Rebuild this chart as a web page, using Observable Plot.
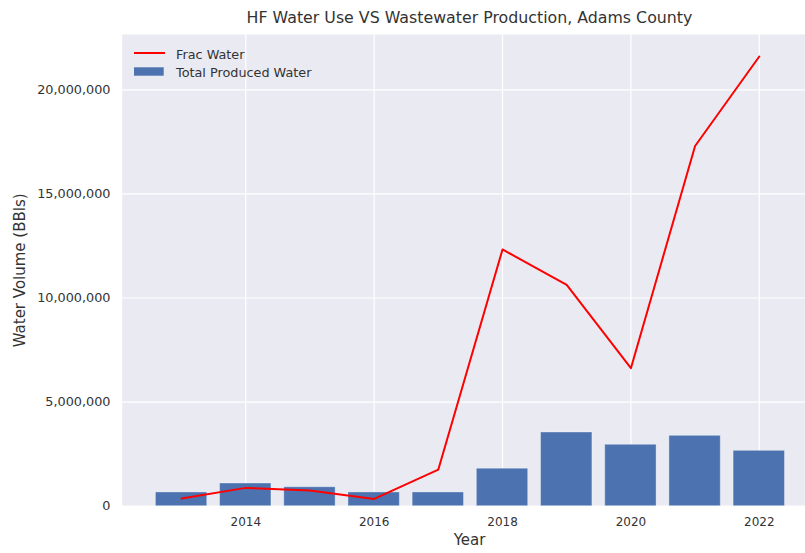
<!DOCTYPE html>
<html>
<head>
<meta charset="utf-8">
<script src="https://cdn.jsdelivr.net/npm/d3@7"></script>
<script src="https://cdn.jsdelivr.net/npm/@observablehq/plot@0.6"></script>
<style>
  html, body { margin: 0; padding: 0; background: white; }
  #wrap { position: relative; width: 805px; height: 553px; overflow: hidden; }
  #legend { position: absolute; left: 0; top: 0; pointer-events: none; }
</style>
</head>
<body>
<div id="wrap">
  <div id="chart"></div>
  <svg id="legend" width="805" height="553" font-family="DejaVu Sans" font-size="12.8" fill="#333333">
    <line x1="134" x2="165" y1="53" y2="53" stroke="#ff0000" stroke-width="2"></line>
    <rect x="134" y="67.3" width="29.7" height="8.4" fill="#4c72b0"></rect>
    <text x="176" y="58.7">Frac Water</text>
    <text x="176" y="77.3">Total Produced Water</text>
  </svg>
</div>
<script>
const years = [2013, 2014, 2015, 2016, 2017, 2018, 2019, 2020, 2021, 2022];
const fracWater = [370000, 880000, 750000, 350000, 1760000, 12330000, 10630000, 6630000, 17300000, 21600000];
const producedWater = [660000, 1090000, 910000, 660000, 660000, 1800000, 3540000, 2950000, 3380000, 2660000];
const xTicks = [2014, 2016, 2018, 2020, 2022];
const yTicks = [0, 5000000, 10000000, 15000000, 20000000];
const titleText = "HF Water Use VS Wastewater Production, Adams County";
const xLabel = "Year";
const yLabel = "Water Volume (BBls)";

const data = years.map((year, i) => ({year, frac: fracWater[i], produced: producedWater[i]}));
const ink = "#333333";

const chart = Plot.plot({
  width: 805,
  height: 553,
  marginLeft: 121.7,
  marginRight: 0,
  marginTop: 34,
  marginBottom: 47.3,
  style: {fontFamily: "DejaVu Sans", background: "white", color: ink},
  x: {type: "linear", domain: [2012.075, 2022.72]},
  y: {domain: [0, 22655000]},
  marks: [
    Plot.frame({fill: "#eaeaf2", stroke: "none"}),
    Plot.gridX(xTicks, {stroke: "white", strokeOpacity: 1, strokeWidth: 1.2}),
    Plot.gridY(yTicks, {stroke: "white", strokeOpacity: 1, strokeWidth: 1.2}),
    Plot.rect(data, {
      x1: d => d.year - 0.4,
      x2: d => d.year + 0.4,
      y1: 0,
      y2: "produced",
      fill: "#4c72b0",
      stroke: "white",
      strokeOpacity: 0.35,
      strokeWidth: 1
    }),
    Plot.line(data, {x: "year", y: "frac", stroke: "#ff0000", strokeWidth: 2}),
    Plot.axisX(xTicks, {tickSize: 0, tickPadding: 11.6, fontSize: 12, tickFormat: d => String(d), label: null, fill: ink}),
    Plot.axisY(yTicks, {tickSize: 0, tickPadding: 11.7, fontSize: 12.8, tickFormat: d3.format(","), label: null, fill: ink}),
    Plot.text([titleText], {frameAnchor: "top", textAnchor: "middle", lineAnchor: "middle", dy: -16.5, dx: 5.65, fontSize: 15.8, fill: ink}),
    Plot.text([xLabel], {frameAnchor: "bottom", textAnchor: "middle", lineAnchor: "middle", dy: 33.8, dx: 5.65, fontSize: 15, fill: ink}),
    Plot.text([yLabel], {frameAnchor: "left", textAnchor: "middle", lineAnchor: "middle", dx: -101.7, rotate: -90, fontSize: 15, fill: ink})
  ]
});
document.getElementById("chart").appendChild(chart);
</script>
</body>
</html>
